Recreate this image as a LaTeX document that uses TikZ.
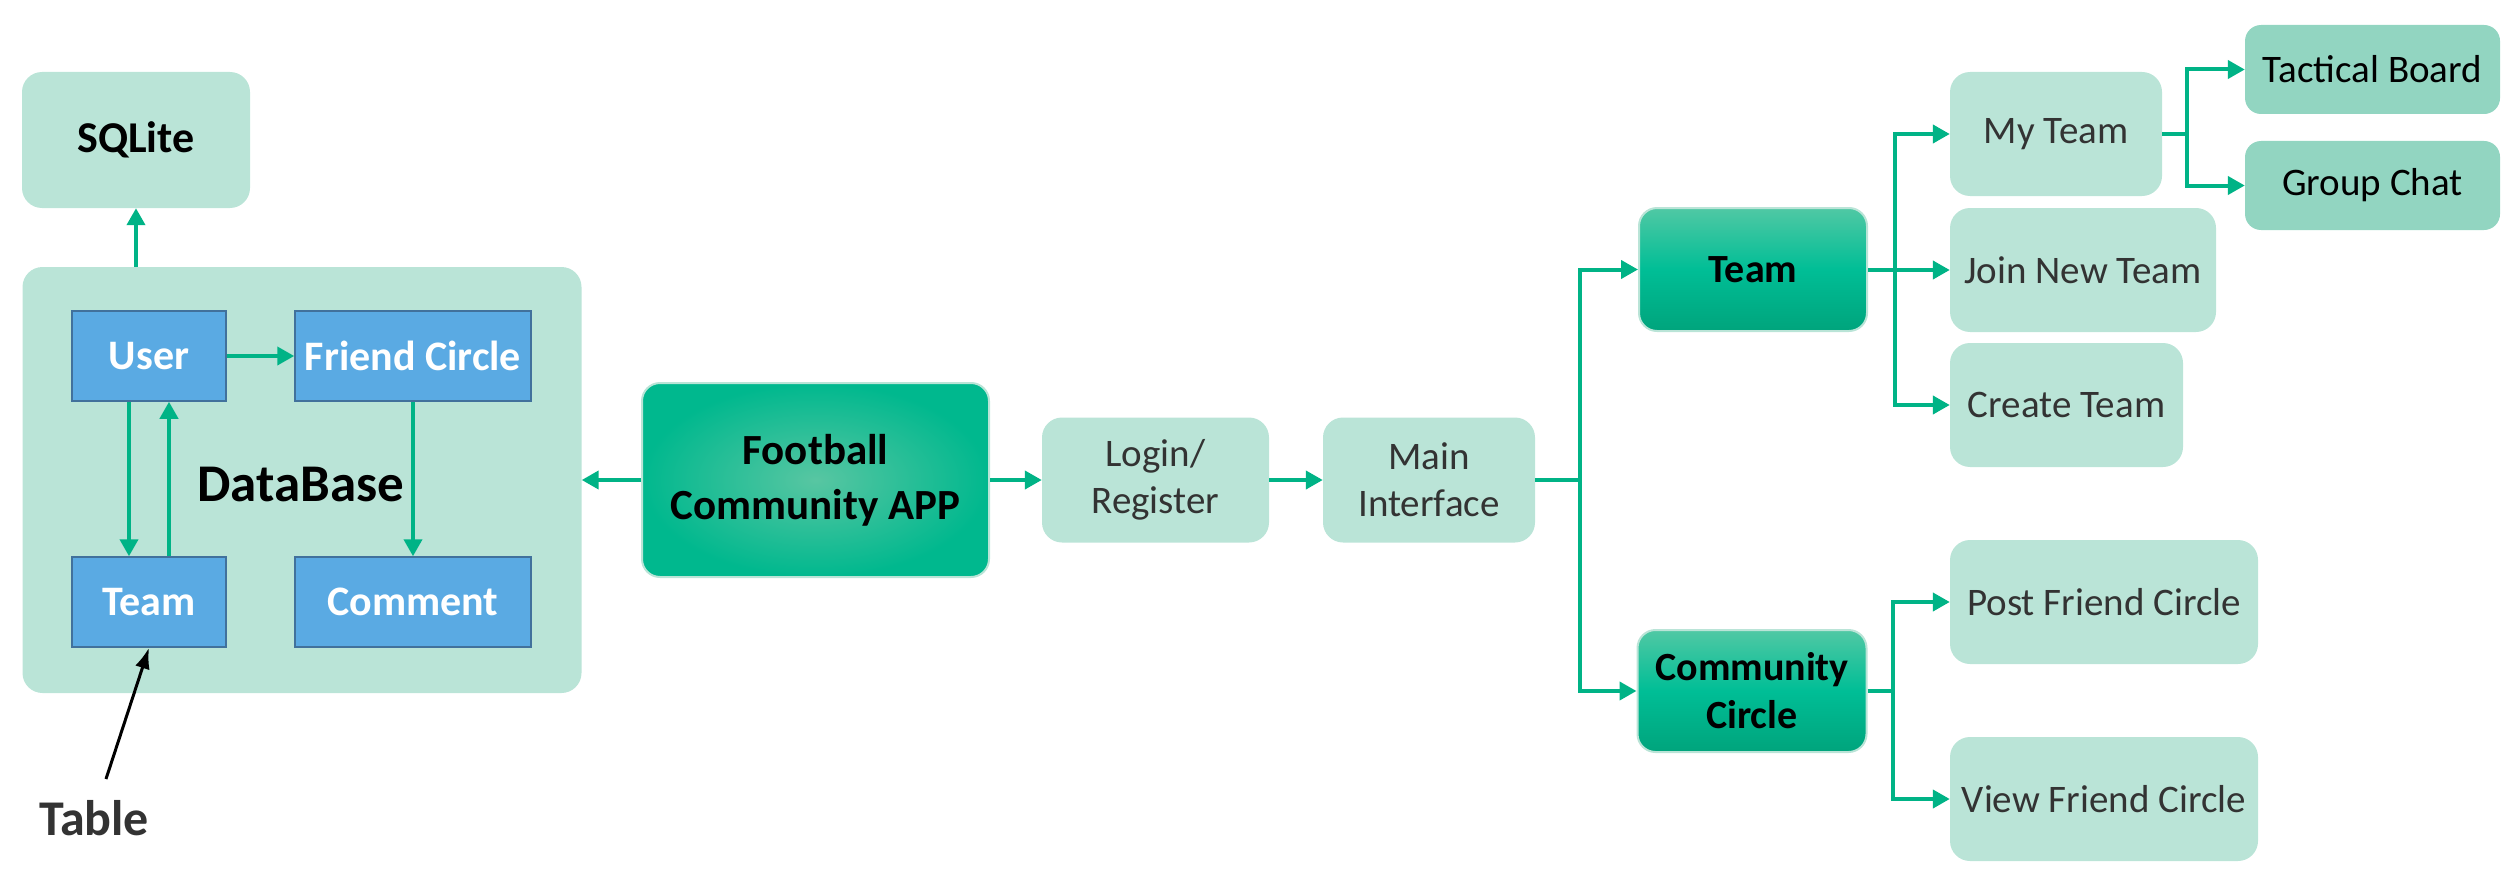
\documentclass[tikz,border=0pt]{standalone}
\usepackage{fontspec}
\setmainfont{Carlito}
\usetikzlibrary{arrows.meta}
\definecolor{boxlight}{RGB}{186,228,215}
\definecolor{boxmid}{RGB}{146,213,193}
\definecolor{linegreen}{RGB}{0,179,134}
\definecolor{tableblue}{RGB}{90,170,227}
\definecolor{tableedge}{RGB}{65,113,156}
\definecolor{txtgray}{RGB}{51,51,51}
\definecolor{keytop}{RGB}{80,200,164}
\definecolor{keymid}{RGB}{0,190,150}
\definecolor{keybottom}{RGB}{0,164,124}
\definecolor{applight}{RGB}{88,198,162}
\definecolor{appmain}{RGB}{0,184,142}
\begin{document}
\begin{tikzpicture}[x=1pt,y=-1pt]
   \tikzset{font={\fontsize{39pt}{47pt}\selectfont},
     soft/.style={fill=boxlight,rounded corners=20pt,text=txtgray,align=center,inner sep=0pt},
     deep/.style={fill=boxmid,rounded corners=16pt,text=black,inner sep=0pt},
     key/.style={draw=boxlight,line width=2pt,rounded corners=18pt,top color=keytop,bottom color=keybottom,middle color=keymid,
       align=center,inner sep=0pt,font={\fontsize{40pt}{48pt}\selectfont\bfseries}},
     tbl/.style={fill=tableblue,draw=tableedge,line width=1.5pt,text=white,inner sep=0pt,minimum height=90pt,
       font={\fontsize{42pt}{50pt}\selectfont\bfseries}},
     wire/.style={draw=linegreen,line width=4pt},
     arr/.style={wire,-{Triangle[length=17pt,width=18pt]}}}
    \useasboundingbox (0,0) rectangle (2510,872);
    % database side
    \node[soft,minimum width=228pt,minimum height=136pt,text=black,font={\fontsize{44pt}{52pt}\selectfont\bfseries}] (sqlite) at (136,140) {SQLite};
    \node[soft,minimum width=559pt,minimum height=426pt] (dbbox) at (302,480) {};
    \node[font={\fontsize{53pt}{60pt}\selectfont\bfseries}] (dblabel) at (301,485) {DataBase};
    \node[tbl,minimum width=154pt] (user) at (149,356) {User};
    \node[tbl,minimum width=236pt] (fcircle) at (413,356) {Friend Circle};
    \node[tbl,minimum width=154pt] (dbteam) at (149,602) {Team};
    \node[tbl,minimum width=236pt] (comment) at (413,602) {Comment};
    \node[text=txtgray,font={\fontsize{50pt}{58pt}\selectfont\bfseries}] (table) at (94,818) {Table};
    \coordinate (tabletail) at (106,779);
    \draw[arr] (dbbox.north -| sqlite.south) -- (sqlite.south);
    \draw[arr] (user.east) -- (fcircle.west);
    \draw[arr] ([xshift=-20pt]user.south) -- ([xshift=-20pt]dbteam.north);
    \draw[arr] ([xshift=20pt]dbteam.north) -- ([xshift=20pt]user.south);
    \draw[arr] (fcircle.south) -- (comment.north);
    \draw[black,line width=3pt,-{Latex[length=21pt,width=15pt]}] (tabletail) -- (dbteam.south);
    % app flow
    \node[draw=boxlight,line width=2pt,rounded corners=18pt,inner color=applight,outer color=appmain,align=center,inner sep=0pt,
      minimum width=347pt,minimum height=194pt,font={\fontsize{43pt}{55pt}\selectfont\bfseries}] (app) at (815.5,480) {Football\\Community APP};
    \node[soft,minimum width=227pt,minimum height=125pt] (login) at (1155.5,480) {Login/\\Register};
    \node[soft,minimum width=212pt,minimum height=125pt] (mainui) at (1429,480) {Main\\Interface};
    \draw[arr] (app.west) -- (dbbox.east);
    \draw[arr] (app.east) -- (login.west);
    \draw[arr] (login.east) -- (mainui.west);
    \coordinate (split) at (1580,480);
    \draw[wire] (mainui.east) -- (split);
    % team and community
    \node[key,minimum width=228pt,minimum height=123pt] (team) at (1753,269.5) {Team};
    \node[key,minimum width=229pt,minimum height=122pt] (community) at (1752,691) {Community\\Circle};
    \draw[arr] (split) |- (team.west);
    \draw[arr] (split) |- (community.west);
    \node[soft,minimum width=212pt,minimum height=124pt] (myteam) at (2056,134) {My Team};
    \node[soft,minimum width=266pt,minimum height=124pt] (joinnew) at (2083,270) {Join New Team};
    \node[soft,minimum width=233pt,minimum height=124pt] (create) at (2066.5,405) {Create Team};
    \node[deep,minimum width=255pt,minimum height=89pt] (tactical) at (2372.5,69.5) {Tactical Board};
    \node[deep,minimum width=255pt,minimum height=89pt] (groupchat) at (2372.5,185.5) {Group Chat};
    \node[soft,minimum width=308pt,minimum height=124pt] (post) at (2104,602) {Post Friend Circle};
    \node[soft,minimum width=308pt,minimum height=124pt] (view) at (2104,799) {View Friend Circle};
    \coordinate (teamfork) at (1895,269.5);
    \coordinate (myfork) at (2187,134);
    \coordinate (circlefork) at (1893,691);
    \draw[wire] (team.east) -- (teamfork);
    \draw[arr] (teamfork) |- (myteam.west);
    \draw[arr] (teamfork) |- (joinnew.west);
    \draw[arr] (teamfork) |- (create.west);
    \draw[wire] (myteam.east) -- (myfork);
    \draw[arr] (myfork) |- (tactical.west);
    \draw[arr] (myfork) |- (groupchat.west);
    \draw[wire] (community.east) -- (circlefork);
    \draw[arr] (circlefork) |- (post.west);
    \draw[arr] (circlefork) |- (view.west);
\end{tikzpicture}
\end{document}
